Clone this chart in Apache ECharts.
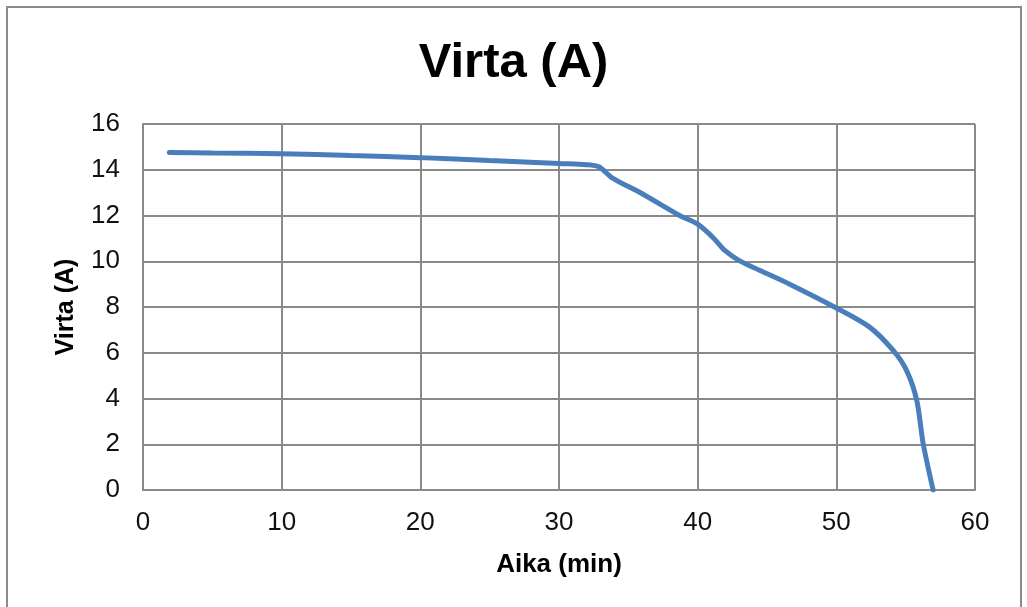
<!DOCTYPE html>
<html>
<head>
<meta charset="utf-8">
<script src="https://cdn.jsdelivr.net/npm/echarts@6/dist/echarts.min.js"></script>
<style>
  html, body { margin: 0; padding: 0; background: #fff; }
  #chart { width: 1027px; height: 607px; }
</style>
</head>
<body>
<div id="chart"></div>
<script>
// Discharge current over time
const timeMin = [1.9, 5, 10, 15, 20, 25, 30, 32, 32.9, 33.8, 36, 38.7, 40, 41.1, 42, 43, 44.5, 46.6, 49.9, 52.4, 54.1, 55.06, 55.8, 56.26, 56.98];
const currentA = [14.75, 14.73, 14.7, 14.62, 14.53, 14.4, 14.27, 14.22, 14.12, 13.66, 12.95, 12.0, 11.62, 11.04, 10.45, 10.03, 9.6, 9.01, 7.99, 7.12, 6.10, 5.23, 3.92, 2.04, 0];
const titleText = 'Virta (A)';
const xName = 'Aika (min)';
const yName = 'Virta (A)';

const points = timeMin.map((t, i) => [t, currentA[i]]);
const gridColor = '#8a8a8a';
const font = '"Liberation Sans", Arial, sans-serif';

const chart = echarts.init(document.getElementById('chart'), null, { renderer: 'canvas' });
chart.setOption({
  animation: false,
  backgroundColor: '#fff',
  graphic: [{
    type: 'rect',
    shape: { x: 7, y: 7, width: 1014, height: 620 },
    style: { fill: 'none', stroke: '#8c8c8c', lineWidth: 2 },
    silent: true
  }],
  title: {
    text: titleText,
    left: 'center',
    top: 34,
    textStyle: { fontFamily: font, fontWeight: 'bold', fontSize: 49, color: '#000' }
  },
  grid: { left: 143, right: 52, top: 124, bottom: 117 },
  xAxis: {
    type: 'value',
    min: 0, max: 60, interval: 10,
    name: xName,
    nameLocation: 'middle',
    nameGap: 62,
    nameTextStyle: { fontFamily: font, fontWeight: 'bold', fontSize: 26, color: '#000' },
    axisLine: { show: true, lineStyle: { color: gridColor, width: 2 } },
    axisTick: { show: false },
    axisLabel: { fontFamily: font, fontSize: 26, color: '#111', margin: 20 },
    splitLine: { show: true, lineStyle: { color: gridColor, width: 2 } }
  },
  yAxis: {
    type: 'value',
    min: 0, max: 16, interval: 2,
    name: yName,
    nameLocation: 'middle',
    nameGap: 64,
    nameRotate: 90,
    nameTextStyle: { fontFamily: font, fontWeight: 'bold', fontSize: 25, color: '#000' },
    axisLine: { show: true, lineStyle: { color: gridColor, width: 2 } },
    axisTick: { show: false },
    axisLabel: { fontFamily: font, fontSize: 26, color: '#111', margin: 23 },
    splitLine: { show: true, lineStyle: { color: gridColor, width: 2 } }
  },
  series: [{
    type: 'line',
    data: points,
    smooth: 0.3,
    showSymbol: false,
    lineStyle: { color: '#4a7ebb', width: 5, cap: 'round' }
  }]
});
</script>
</body>
</html>
